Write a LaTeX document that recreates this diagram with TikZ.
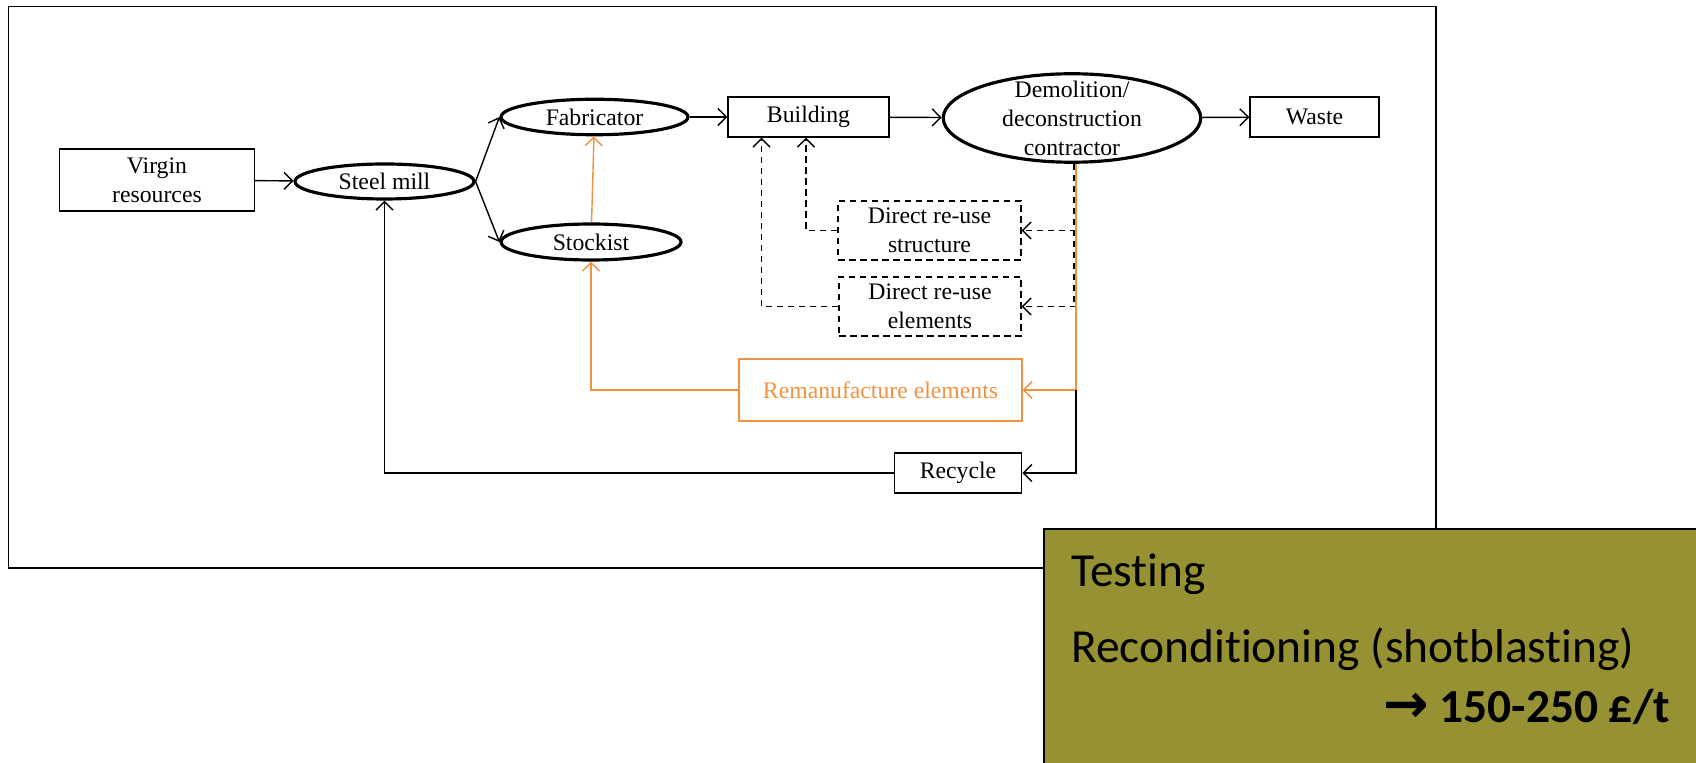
\documentclass[tikz,border=0pt]{standalone}
\usepackage{fontspec}
\setmainfont{Liberation Serif}
\newfontfamily\calibrifont[Ligatures=NoCommon]{Carlito}
\newfontfamily\symbolfont{DejaVu Sans}
\usepackage{xcolor}
\usetikzlibrary{shapes.geometric, arrows.meta, positioning}
\definecolor{remorange}{HTML}{F2923F}
\definecolor{olivebox}{HTML}{969234}

\begin{document}
\begin{tikzpicture}[
  font=\fontsize{13.5}{16.5}\selectfont,
  >={Straight Barb[length=1.7mm,width=3.4mm]},
  box/.style={draw, line width=0.8pt, align=center, inner sep=0pt},
  actor/.style={draw, ellipse, line width=1.8pt, align=center, inner sep=0pt},
  reuse/.style={box, dash pattern=on 1.3mm off 0.9mm},
  flow/.style={->, line width=0.8pt},
  reflow/.style={flow, dash pattern=on 1.3mm off 0.9mm},
  remflow/.style={flow, remorange}
]
\useasboundingbox (0,0) rectangle (33.92,15.24);

% Frame
\draw[line width=0.9pt] (0.17,3.88) rectangle (28.72,15.11);

% Main chain
\node[box, minimum width=3.89cm, minimum height=1.24cm] (virgin) at (3.14,11.64) {Virgin\\resources};
\node[actor, minimum width=3.58cm, minimum height=0.70cm] (mill) at (7.69,11.61) {Steel mill};
\node[actor, minimum width=3.74cm, minimum height=0.71cm] (fab) at (11.89,12.90) {Fabricator};
\node[actor, minimum width=3.60cm, minimum height=0.72cm] (stock) at (11.82,10.40) {Stockist};
\node[box, minimum width=3.22cm, minimum height=0.80cm] (building) at (16.17,12.90) {Building};
\node[actor, minimum width=5.15cm, minimum height=1.77cm, inner ysep=-0.19cm] (demo) at (21.44,12.88) {Demolition/\\deconstruction\\contractor};
\node[box, minimum width=2.58cm, minimum height=0.80cm] (waste) at (26.29,12.90) {Waste};

% Re-use routes
\node[reuse, minimum width=3.66cm, minimum height=1.18cm] (structure) at (18.59,10.63) {Direct re-use\\structure};
\node[reuse, minimum width=3.64cm, minimum height=1.18cm] (elements) at (18.60,9.11) {Direct re-use\\elements};
\node[box, draw=remorange, text=remorange, minimum width=5.66cm, minimum height=1.24cm] (reman) at (17.61,7.44) {Remanufacture elements};
\node[box, minimum width=2.55cm, minimum height=0.80cm] (recycle) at (19.16,5.78) {Recycle};

% Forward flows
\draw[flow] (virgin) -- (mill);
\draw[flow] (mill.east) -- (fab.west);
\draw[flow] (mill.east) -- (stock.west);
\draw[flow] (fab) -- (building);
\draw[flow] (building) -- (demo);
\draw[flow] (demo) -- (waste);
\draw[remflow] (stock) -- (fab);

% Return flows
\coordinate (split) at ([xshift=0.8mm]demo.south);
\draw[line width=0.8pt, dash pattern=on 1.3mm off 0.9mm] ([xshift=-0.4mm]split) -- ([xshift=-0.4mm]split |- elements.east);
\draw[reflow] (split |- structure.east) -- (structure.east);
\draw[reflow] (split |- elements.east) -- (elements.east);
\draw[remflow] (split) -- (split |- reman.east) -- (reman.east);
\draw[flow] (split |- reman.east) -- (split |- recycle.east) -- (recycle.east);
\draw[reflow] (structure.west) -| ([xshift=-0.5mm]building.south);
\draw[reflow] (elements.west) -| ([xshift=-9.4mm]building.south);
\draw[remflow] (reman.west) -| (stock.south);
\draw[flow] (recycle.west) -| (mill.south);

% Cost box
\draw[line width=1.1pt, fill=olivebox] (20.88,-0.5) rectangle (34.5,4.66);
\node[anchor=base west, font=\calibrifont\fontsize{27}{32}\selectfont] (testing) at (21.30,3.50) {Testing};
\node[anchor=base west, font=\calibrifont\fontsize{27}{32}\selectfont] (recond) at (21.30,1.98) {Reconditioning (shotblasting)};
\node[anchor=base east, font=\calibrifont\fontsize{27}{32}\selectfont\bfseries] (cost) at (33.52,0.79) {{\symbolfont\fontsize{31}{32}\selectfont →} 150-250 £/t};

\end{tikzpicture}
\end{document}
